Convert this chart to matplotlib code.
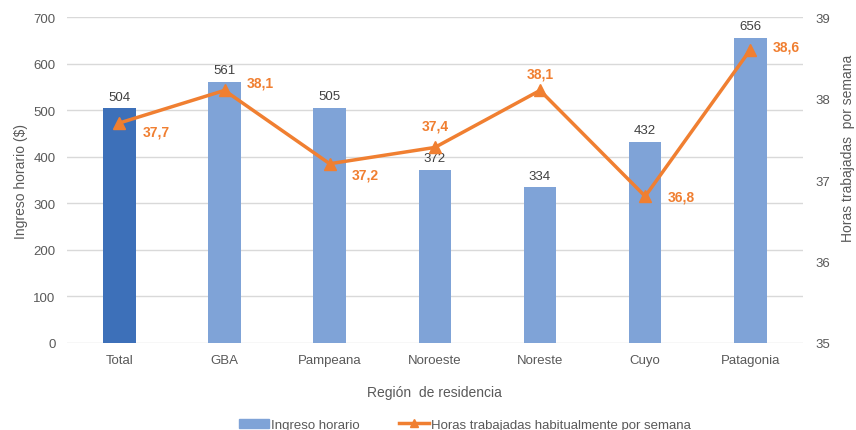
import numpy as np
import matplotlib.pyplot as plt
from matplotlib.patches import Patch
from matplotlib.lines import Line2D

plt.rcParams['font.family'] = ['Liberation Sans', 'DejaVu Sans']

regiones = ['Total', 'GBA', 'Pampeana', 'Noroeste', 'Noreste', 'Cuyo', 'Patagonia']
ingreso = [504, 561, 505, 372, 334, 432, 656]
horas = [37.7, 38.1, 37.2, 37.4, 38.1, 36.8, 38.6]

azul_total = '#3D70B9'
azul = '#7FA3D7'
naranja = '#F07F31'
gris = '#595959'

fig = plt.figure(figsize=(8.56, 4.31), dpi=100)
ax = fig.add_axes([0.078, 0.202, 0.86, 0.756])
x = np.arange(len(regiones))
colores = [azul_total] + [azul] * (len(regiones) - 1)
ax.bar(x, ingreso, width=0.31, color=colores, zorder=2)
for xi, v in zip(x, ingreso):
    ax.text(xi, v + 12, str(v), ha='center', va='bottom', fontsize=9.5, color='#404040')

ax.set_ylim(0, 700)
ax.set_yticks(range(0, 701, 100))
ax.set_xlim(-0.5, len(regiones) - 0.5)
ax.set_xticks(x)
ax.set_xticklabels(regiones)
ax.grid(axis='y', color='#D9D9D9', linewidth=1, zorder=0)
ax.tick_params(length=0, labelsize=9.5, colors=gris, pad=8)
for s in ax.spines.values():
    s.set_visible(False)
ax.set_ylabel('Ingreso horario ($)', fontsize=10, color=gris, labelpad=4)
ax.set_xlabel('Región  de residencia', fontsize=10, color=gris, labelpad=14)

ax2 = ax.twinx()
ax2.plot(x, horas, color=naranja, linewidth=2.5, marker='^', markersize=8, zorder=3)
ax2.set_ylim(35, 39)
ax2.set_yticks([35, 36, 37, 38, 39])
ax2.tick_params(length=0, labelsize=9.5, colors=gris, pad=9)
for s in ax2.spines.values():
    s.set_visible(False)
ax2.set_ylabel('Horas trabajadas  por semana', fontsize=10, color=gris)
ax2.yaxis.set_label_coords(1.052, 0.6)

# posiciones de las etiquetas naranjas (en puntos)
offs = [(17, -6), (16, 6), (16, -8), (0, 16), (0, 12), (16, 0), (16, 2)]
for xi, h, (dx, dy) in zip(x, horas, offs):
    lab = f'{h:.1f}'.replace('.', ',')
    ha = 'left' if dx else 'center'
    ax2.annotate(lab, (xi, h), xytext=(dx, dy), textcoords='offset points',
                 ha=ha, va='center', fontsize=10, fontweight='bold', color=naranja)

handles = [Patch(color=azul), Line2D([], [], color=naranja, linewidth=2.5, marker='^', markersize=6)]
fig.legend(handles, ['Ingreso horario', 'Horas trabajadas habitualmente por semana'],
           loc='lower center', bbox_to_anchor=(0.543, -0.03), ncol=2, frameon=False,
           fontsize=9.5, labelcolor=gris, columnspacing=3.0, handlelength=2.3,
           handletextpad=0.1)

fig.savefig('out.png', dpi=100)
